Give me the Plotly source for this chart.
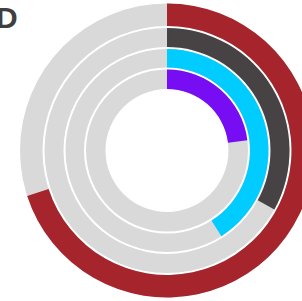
import plotly.graph_objects as go

# ---- data ----
series = ["Series 1", "Series 2", "Series 3", "Series 4"]   # outer -> inner
values = [70, 33, 41, 23]                                    # percent of full circle
colors = ["#A6242B", "#474344", "#00CCFF", "#770DF2"]
title_text = "D"

# ---- style constants (pixel-like radial units) ----
ring_inner = [124.5, 103.5, 83.0, 61.5]
ring_outer = [147.0, 122.5, 101.5, 81.0]
track_color = "#D9D9D9"
W, H = 334, 301

fig = go.Figure()
for name, v, c, r0, r1 in zip(series, values, colors, ring_inner, ring_outer):
    fig.add_trace(go.Barpolar(
        theta=[180], width=[360], base=[r0], r=[r1 - r0],
        marker=dict(color=track_color, line=dict(width=0)),
        showlegend=False, hoverinfo="skip"))
    fig.add_trace(go.Barpolar(
        theta=[v * 3.6 / 2], width=[v * 3.6], base=[r0], r=[r1 - r0],
        marker=dict(color=c, line=dict(width=0)),
        name=name, showlegend=False))

fig.update_layout(
    width=W, height=H,
    margin=dict(l=0, r=0, t=0, b=0),
    paper_bgcolor="white",
    barmode="overlay",
    polar=dict(
        domain=dict(x=[0, 1], y=[0, 1]),
        bgcolor="rgba(0,0,0,0)",
        radialaxis=dict(range=[0, 150.5], visible=False, showgrid=False),
        angularaxis=dict(visible=False, rotation=90, direction="clockwise",
                         showgrid=False, showline=False, ticks=""),
    ),
    annotations=[dict(
        text="<b>%s</b>" % title_text, xref="paper", yref="paper",
        x=-6 / W, y=1.0 + 1.5 / H, xanchor="left", yanchor="top", showarrow=False,
        font=dict(family="Liberation Sans", size=30, color="#3F3F3F"))],
)

fig.write_html("out.html", config={"displayModeBar": False},
               post_script="document.documentElement.style.overflow='hidden';document.body.style.overflow='hidden';document.body.style.margin='0';")
